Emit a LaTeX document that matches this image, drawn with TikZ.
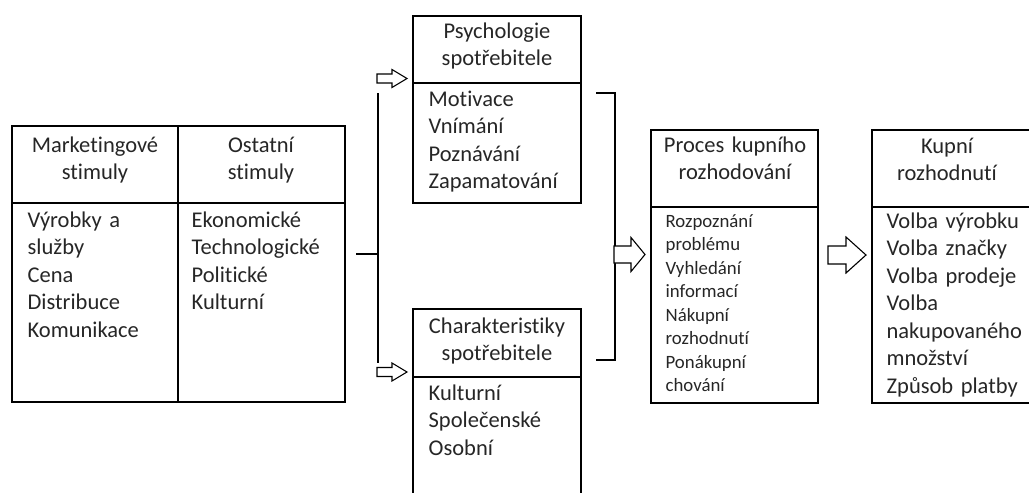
\documentclass[tikz,border=0pt]{standalone}
\usepackage{fontspec}
\setmainfont{Carlito}[Ligatures={NoCommon}]
\begin{document}
\begin{tikzpicture}[x=1pt,y=-1pt,line width=1.3pt,
  box/.style={draw,line width=1.3pt,inner sep=0pt,outer sep=0pt},
  big/.style={font=\fontsize{22.5}{27.5}\selectfont,inner sep=0pt,text=black!85},
  small/.style={font=\fontsize{18.8}{23.5}\selectfont,inner sep=0pt,text=black!85},
  blockarrow/.style={draw,line width=1.1pt,fill=white,line join=miter}]
\useasboundingbox (0,0) rectangle (1029,493);
\clip (0,0) rectangle (1029,493);
% boxes
\node[box,minimum width=333,minimum height=276] (left) at (178.5,264) {};
\node[box,minimum width=168,minimum height=187] (psych) at (497,109.5) {};
\node[box,minimum width=168,minimum height=211] (char) at (497,414.5) {};
\node[box,minimum width=167,minimum height=273] (proc) at (734.5,266.5) {};
\node[box,minimum width=178,minimum height=273] (kup) at (961,266.5) {};
% dividers
\draw (178,126) -- (178,402);
\draw (left.west |- 0,203) -- (left.east |- 0,203);
\draw (psych.west |- 0,83) -- (psych.east |- 0,83);
\draw (char.west |- 0,377) -- (char.east |- 0,377);
\draw (proc.west |- 0,207) -- (proc.east |- 0,207);
\draw (kup.west |- 0,207) -- (kup.east |- 0,207);
% texts
\node[big,anchor=base,text width=160,align=center] (mh) at (95,152) {Marketingové\\stimuly};
\node[big,anchor=base,text width=160,align=center] (oh) at (261,152) {Ostatní\\stimuly};
\node[big,anchor=base west,text width=155,align=left] (mb) at (27,227) {Výrobky a\\služby\\Cena\\Distribuce\\Komunikace};
\node[big,anchor=base west,text width=155,align=left] (ob) at (191,227) {Ekonomické\\Technologické\\Politické\\Kulturní};
\node[big,anchor=base,text width=160,align=center] (ph) at (497,38) {Psychologie\\spotřebitele};
\node[big,anchor=base west,text width=155,align=left] (pb) at (428,106) {Motivace\\Vnímání\\Poznávání\\Zapamatování};
\node[big,anchor=base,text width=160,align=center] (ch) at (497,333) {Charakteristiky\\spotřebitele};
\node[big,anchor=base west,text width=155,align=left] (cb) at (428,400) {Kulturní\\Společenské\\Osobní};
\node[big,anchor=base,text width=160,align=center] (prh) at (735,152) {Proces kupního\\rozhodování};
\node[small,anchor=base west,text width=150,align=left] (prb) at (665,227) {Rozpoznání\\problému\\Vyhledání\\informací\\Nákupní\\rozhodnutí\\Ponákupní\\chování};
\node[big,anchor=base,text width=160,align=center] (kh) at (947,153) {Kupní\\rozhodnutí};
\node[big,anchor=base west,text width=155,align=left] (kb) at (886,228) {Volba výrobku\\Volba značky\\Volba prodeje\\Volba\\nakupovaného\\množství\\Způsob platby};
% left bracket
\coordinate (ls) at (356,254);
\coordinate (lj) at (378,254);
\coordinate (lt) at (378,93);
\coordinate (lb) at (378,363);
\draw (ls) -- (lj);
\draw (lt) -- (lb);
% right bracket
\coordinate (rt) at (596,93);
\coordinate (rtc) at (615,93);
\coordinate (rbc) at (615,360);
\coordinate (rb) at (596,360);
\draw (rt) -- (rtc) -- (rbc) -- (rb);
% block arrows
\draw[blockarrow] (377,74) -- (392,74) -- (392,69.5) -- (407,78.5) -- (392,87.5) -- (392,83) -- (377,83) -- cycle;
\draw[blockarrow] (377,367.5) -- (392,367.5) -- (392,363) -- (407,372) -- (392,381) -- (392,376.5) -- (377,376.5) -- cycle;
\draw[blockarrow] (614,246) -- (631,246) -- (631,237.5) -- (645,254.5) -- (631,271.5) -- (631,263) -- (614,263) -- cycle;
\draw[blockarrow] (828,246) -- (846,246) -- (846,237) -- (866,255) -- (846,273) -- (846,264) -- (828,264) -- cycle;
\end{tikzpicture}
\end{document}
